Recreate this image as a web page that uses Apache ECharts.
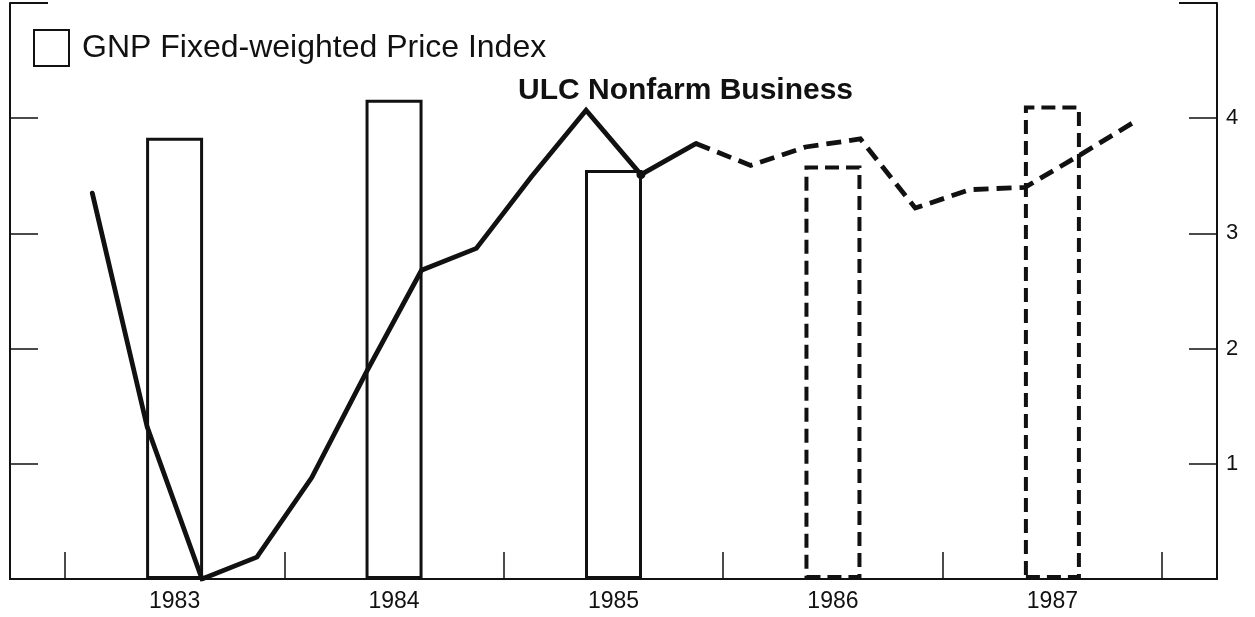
<!DOCTYPE html>
<html>
<head>
<meta charset="utf-8">
<script src="https://cdn.jsdelivr.net/npm/echarts@6/dist/echarts.min.js"></script>
<style>
  html, body { margin: 0; padding: 0; background: #ffffff; }
  #chart { width: 1255px; height: 617px; }
</style>
</head>
<body>
<div id="chart"></div>
<script>
// Annual GNP fixed-weighted price index change (bars), percent
const years = [1983, 1984, 1985, 1986, 1987];
const gnpPriceIndex = [3.83, 4.16, 3.55, 3.59, 4.11];
const gnpProjected = [false, false, false, true, true];

// Quarterly unit labor cost, nonfarm business (line), percent
const ulcFirstYear = 1983;
const ulcActual = [3.35, 1.32, 0.0, 0.19, 0.88, 1.80, 2.68, 2.87, 3.49, 4.07, 3.51, 3.78]; // 1983 Q1 – 1985 Q4
const ulcProjected = [3.59, 3.75, 3.82, 3.22, 3.38, 3.40, 3.68, 3.97];                    // 1986 Q1 – 1987 Q4
const ulcMarkedQuarter = 10; // 1985 Q3

// Axis ticks and labels
const yearBoundaries = [1983, 1984, 1985, 1986, 1987, 1988];
const valueTicks = [1, 2, 3, 4];
const valueTop = 5;

const GNP_NAME = 'GNP Fixed-weighted Price Index';
const ULC_NAME = 'ULC Nonfarm Business';
const FONT = '"Liberation Sans", Arial, Helvetica, sans-serif';
const INK = '#111111';

const quarterX = i => ulcFirstYear + (i + 0.5) / 4;

const ulcSolidData = ulcActual.map((v, i) => [quarterX(i), v]);
const lastActual = ulcActual.length - 1;
const ulcDashedData = [[quarterX(lastActual), ulcActual[lastActual]]]
  .concat(ulcProjected.map((v, j) => [quarterX(ulcActual.length + j), v]));

const barData = years.map((y, i) => ({
  value: [y + 0.5, gnpPriceIndex[i]],
  itemStyle: gnpProjected[i]
    ? { borderType: [14, 7], borderWidth: 4 }
    : { borderType: 'solid', borderWidth: 3 }
}));

function valueAxis(position, opts) {
  return Object.assign({
    type: 'value',
    position: position,
    min: 0,
    max: valueTop,
    interval: 1,
    splitLine: { show: false },
    axisLine: { show: true, onZero: false, lineStyle: { color: INK, width: 2 } },
    axisTick: {
      show: true, inside: true, length: 28, customValues: valueTicks,
      lineStyle: { color: INK, width: 1.5 }
    },
    axisLabel: { show: false }
  }, opts || {});
}

function topStubAxis(position) {
  return {
    type: 'value',
    position: position,
    min: 0,
    max: valueTop,
    interval: 1,
    splitLine: { show: false },
    axisLine: { show: false },
    axisTick: {
      show: true, inside: true, length: 38, customValues: [valueTop],
      lineStyle: { color: INK, width: 2 }
    },
    axisLabel: { show: false }
  };
}

const chart = echarts.init(document.getElementById('chart'), null, { renderer: 'canvas' });

chart.setOption({
  backgroundColor: '#ffffff',
  animation: false,
  textStyle: { fontFamily: FONT, color: INK },
  grid: { left: 10, right: 38, top: 3, bottom: 38 },
  title: {
    text: ULC_NAME,
    left: 518,
    top: 76,
    padding: 0,
    textStyle: { fontFamily: FONT, fontSize: 30, fontWeight: 'bold', color: INK }
  },
  legend: {
    data: [GNP_NAME],
    left: 33,
    top: 29,
    padding: 0,
    icon: 'rect',
    itemWidth: 35,
    itemHeight: 36,
    itemStyle: { color: 'rgba(0,0,0,0)', borderColor: INK, borderWidth: 2 },
    textStyle: { fontFamily: FONT, fontSize: 32, color: INK, padding: [0, 0, 0, 8] }
  },
  xAxis: {
    type: 'value',
    min: 1982.75,
    max: 1988.25,
    splitLine: { show: false },
    axisLine: { show: true, onZero: false, lineStyle: { color: INK, width: 2 } },
    axisTick: {
      show: true, inside: true, length: 27, customValues: yearBoundaries,
      lineStyle: { color: INK, width: 1.5 }
    },
    axisLabel: {
      show: true,
      customValues: years.map(y => y + 0.5),
      formatter: v => String(Math.floor(v)),
      fontFamily: FONT, fontSize: 23, color: INK, margin: 11
    }
  },
  yAxis: [
    valueAxis('left'),
    valueAxis('right', {
      axisLabel: {
        show: true, customValues: valueTicks,
        fontFamily: FONT, fontSize: 22, color: INK, margin: 9
      }
    }),
    topStubAxis('left'),
    topStubAxis('right')
  ],
  series: [
    {
      name: GNP_NAME,
      type: 'bar',
      barWidth: 57,
      xAxisIndex: 0,
      yAxisIndex: 0,
      itemStyle: { color: 'rgba(0,0,0,0)', borderColor: INK, borderWidth: 3 },
      data: barData,
      z: 2
    },
    {
      name: ULC_NAME,
      type: 'line',
      yAxisIndex: 0,
      data: ulcSolidData,
      symbol: (val, params) => params.dataIndex === ulcMarkedQuarter ? 'circle' : 'none',
      symbolSize: 9,
      showSymbol: true,
      itemStyle: { color: INK },
      lineStyle: { color: INK, width: 4.8, cap: 'round', join: 'miter' },
      z: 4
    },
    {
      name: ULC_NAME + ' (projected)',
      type: 'line',
      yAxisIndex: 0,
      data: ulcDashedData,
      showSymbol: false,
      symbol: 'none',
      lineStyle: { color: INK, width: 4.8, type: [15, 8], join: 'miter' },
      z: 4
    }
  ]
});
</script>
</body>
</html>
